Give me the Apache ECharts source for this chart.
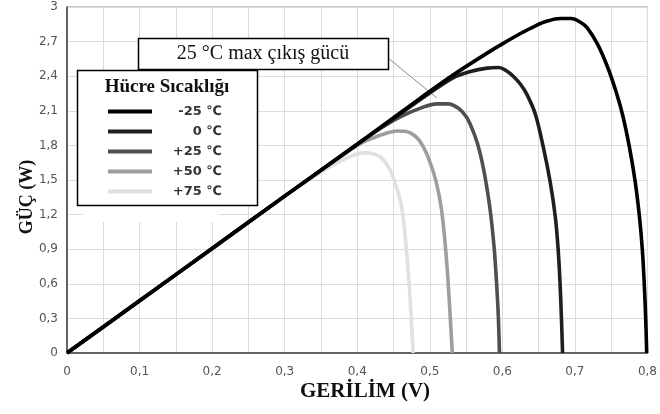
<!DOCTYPE html>
<html>
<head>
<meta charset="utf-8">
<title>Güç - Gerilim</title>
<script src="https://cdn.jsdelivr.net/npm/echarts@6/dist/echarts.min.js"></script>
<style>
  html, body { margin: 0; padding: 0; background: #fff; }
  #chart { width: 660px; height: 414px; }
</style>
</head>
<body>
<div id="chart"></div>
<script>
// P-V curves of a solar cell at five cell temperatures
const seriesNames = ['-25 \u2103', '0 \u2103', '+25 \u2103', '+50 \u2103', '+75 \u2103'];
const seriesColors = ['#000000', '#1e1e1e', '#4f4f4f', '#9e9e9e', '#e0e0e0'];

// voltage (V) / power (W) samples, one pair of arrays per temperature
const vMinus25 = [0, 0.1, 0.2, 0.3, 0.4, 0.45, 0.487, 0.532, 0.579, 0.60, 0.625, 0.645, 0.662, 0.68, 0.695, 0.707, 0.717, 0.731, 0.745, 0.756, 0.7655, 0.775, 0.783, 0.789, 0.793, 0.7955, 0.7975, 0.799];
const pMinus25 = [0, 0.453, 0.906, 1.36, 1.81, 2.04, 2.21, 2.41, 2.60, 2.68, 2.77, 2.835, 2.878, 2.90, 2.90, 2.87, 2.82, 2.68, 2.48, 2.28, 2.07, 1.79, 1.49, 1.18, 0.89, 0.61, 0.31, 0];

const vZero = [0, 0.1, 0.2, 0.3, 0.4, 0.45, 0.49, 0.532, 0.556, 0.579, 0.595, 0.605, 0.615, 0.625, 0.634, 0.6455, 0.6566, 0.666, 0.673, 0.677, 0.6795, 0.6814, 0.683];
const pZero = [0, 0.453, 0.906, 1.36, 1.81, 2.03, 2.21, 2.385, 2.44, 2.47, 2.475, 2.45, 2.40, 2.33, 2.24, 2.07, 1.78, 1.48, 1.18, 0.89, 0.61, 0.31, 0];

const vPlus25 = [0, 0.1, 0.2, 0.3, 0.4, 0.43, 0.46, 0.49, 0.51, 0.525, 0.54, 0.55, 0.558, 0.5655, 0.572, 0.578, 0.584, 0.589, 0.592, 0.5945, 0.596];
const pPlus25 = [0, 0.453, 0.906, 1.36, 1.81, 1.94, 2.05, 2.13, 2.16, 2.16, 2.12, 2.05, 1.95, 1.82, 1.66, 1.46, 1.20, 0.89, 0.61, 0.31, 0];

const vPlus50 = [0, 0.1, 0.2, 0.3, 0.37, 0.40, 0.42, 0.44, 0.455, 0.468, 0.48, 0.49, 0.50, 0.509, 0.516, 0.521, 0.525, 0.528, 0.531];
const pPlus50 = [0, 0.453, 0.906, 1.36, 1.67, 1.80, 1.86, 1.905, 1.925, 1.92, 1.88, 1.80, 1.66, 1.48, 1.25, 0.96, 0.64, 0.33, 0];

const vPlus75 = [0, 0.1, 0.2, 0.3, 0.35, 0.37, 0.385, 0.40, 0.41, 0.42, 0.432, 0.445, 0.455, 0.462, 0.467, 0.471, 0.474, 0.477];
const pPlus75 = [0, 0.453, 0.906, 1.36, 1.57, 1.64, 1.69, 1.725, 1.735, 1.73, 1.70, 1.59, 1.42, 1.24, 0.95, 0.65, 0.35, 0];

const curves = [[vMinus25, pMinus25], [vZero, pZero], [vPlus25, pPlus25], [vPlus50, pPlus50], [vPlus75, pPlus75]];

// axis ranges and tick steps
const xMin = 0, xMax = 0.8, xStep = 0.1;
const yMin = 0, yMax = 3, yStep = 0.3;

const zip = (xs, ys) => xs.map((x, i) => [x, ys[i]]);
const comma = v => (Math.round(v * 10) / 10).toString().replace('.', ',');

const chart = echarts.init(document.getElementById('chart'), null, { renderer: 'canvas' });

// hottest first so the cold (black) curve sits on top where they overlap
const series = curves.map((c, i) => ({
  name: seriesNames[i],
  type: 'line',
  data: zip(c[0], c[1]),
  showSymbol: false,
  smooth: 0.35,
  lineStyle: { color: seriesColors[i], width: 3.6 },
  itemStyle: { color: seriesColors[i] },
  z: 10 - i,
  animation: false
})).reverse();

const serif = '"Liberation Serif", "Times New Roman", serif';
const sans = '"DejaVu Sans", Verdana, sans-serif';

chart.setOption({
  animation: false,
  grid: { left: 67, right: 12, top: 7, bottom: 61, show: true, borderColor: '#8c8c8c', borderWidth: 1 },
  xAxis: {
    type: 'value', min: xMin, max: xMax, interval: xStep,
    axisLine: { show: true, lineStyle: { color: '#404040', width: 1.5 } },
    axisTick: { show: false },
    minorTick: { show: false, splitNumber: 2 },
    minorSplitLine: { show: true, lineStyle: { color: '#dcdcdc', width: 1 } },
    splitLine: { show: true, lineStyle: { color: '#dcdcdc', width: 1 } },
    axisLabel: { color: '#555', fontFamily: sans, fontSize: 12, margin: 13, formatter: comma }
  },
  yAxis: {
    type: 'value', min: yMin, max: yMax, interval: yStep,
    axisLine: { show: true, lineStyle: { color: '#404040', width: 1.5 } },
    axisTick: { show: false },
    splitLine: { show: true, lineStyle: { color: '#dcdcdc', width: 1 } },
    axisLabel: { color: '#555', fontFamily: sans, fontSize: 12, margin: 9, formatter: comma }
  },
  legend: {
    data: seriesNames,
    orient: 'vertical',
    left: 103, top: 100,
    icon: 'rect',
    itemWidth: 44, itemHeight: 4,
    itemGap: 7,
    selectedMode: false,
    formatter: name => '{r|' + name + '}',
    textStyle: {
      color: '#333', fontFamily: sans, fontWeight: 'bold', fontSize: 13,
      rich: { r: { width: 65, align: 'right', color: '#333', fontFamily: sans, fontWeight: 'bold', fontSize: 13, lineHeight: 14 } }
    },
    z: 20
  },
  series: series,
  graphic: [
    // legend frame
    { type: 'rect', z: 5, shape: { x: 83, y: 204, width: 136, height: 18 }, style: { fill: '#fff' } },
    { type: 'rect', z: 6, shape: { x: 77.5, y: 70.5, width: 180, height: 135 }, style: { fill: '#fff', stroke: '#000', lineWidth: 1.5 } },
    { type: 'text', z: 21, x: 167, y: 87, style: { text: 'Hücre Sıcaklığı', font: 'bold 19px ' + serif, fill: '#111', align: 'center', verticalAlign: 'middle' } },
    // callout for the 25 °C maximum power point
    { type: 'line', z: 7, shape: { x1: 388, y1: 58, x2: 437, y2: 98 }, style: { stroke: '#8a8a8a', lineWidth: 1 } },
    { type: 'rect', z: 8, shape: { x: 138.5, y: 38.5, width: 250, height: 31 }, style: { fill: '#fff', stroke: '#000', lineWidth: 1.5 } },
    { type: 'text', z: 9, x: 263, y: 54, style: { text: '25 °C max çıkış gücü', font: '20px ' + serif, fill: '#111', align: 'center', verticalAlign: 'middle' } },
    // axis titles
    { type: 'text', z: 9, x: 365, y: 392, style: { text: 'GERİLİM (V)', font: 'bold 21px ' + serif, fill: '#111', align: 'center', verticalAlign: 'middle' } },
    { type: 'text', z: 9, x: 27, y: 197, rotation: Math.PI / 2, style: { text: 'GÜÇ (W)', font: 'bold 18px ' + serif, fill: '#111', align: 'center', verticalAlign: 'middle' } }
  ]
});
</script>
</body>
</html>
